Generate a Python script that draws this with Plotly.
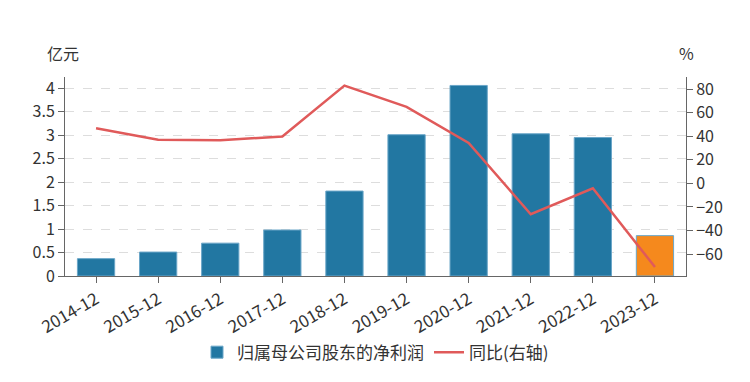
import plotly.graph_objects as go

categories = ["2014-12", "2015-12", "2016-12", "2017-12", "2018-12",
              "2019-12", "2020-12", "2021-12", "2022-12", "2023-12"]
net_profit = [0.37, 0.51, 0.70, 0.98, 1.81, 3.01, 4.06, 3.03, 2.95, 0.86]
yoy_pct = [46.7, 37.0, 36.5, 39.8, 82.9, 64.8, 34.2, -26.2, -4.2, -71.0]

bar_colors = ["#2277a2"] * 9 + ["#f5891d"]
FONT = "Noto Sans CJK SC"

fig = go.Figure()
fig.add_trace(go.Bar(
    x=categories, y=net_profit, name="归属母公司股东的净利润",
    marker=dict(color=bar_colors, line=dict(color="#6aa6c8", width=1)),
    yaxis="y",
))
fig.add_trace(go.Scatter(
    x=categories, y=yoy_pct, name="同比(右轴)", mode="lines",
    line=dict(color="#e05a5a", width=2.5),
    yaxis="y2",
))

# page body has an 8px default margin, so compensate in figure margins
fig.update_layout(
    width=742, height=374,
    margin=dict(l=57, r=64, t=69, b=98),
    paper_bgcolor="white", plot_bgcolor="white",
    font=dict(family=FONT, size=16, color="#333333"),
    bargap=0.4,
    showlegend=True,
    legend=dict(orientation="h", x=0.5, xanchor="center", y=-0.385, yanchor="middle",
                font=dict(size=17, color="#333333"), itemwidth=30),
    xaxis=dict(
        type="category", showline=True, linecolor="#666666", linewidth=1,
        ticks="outside", ticklen=6, tickcolor="#666666", tickangle=-30,
        tickfont=dict(size=17, color="#333333"), showgrid=False, mirror=False,
        automargin=False,
    ),
    yaxis=dict(
        range=[0, 4.24], dtick=0.5, tick0=0, showline=True, linecolor="#666666",
        ticks="outside", ticklen=6, tickcolor="#666666",
        showgrid=True, gridcolor="#dddddd", griddash="dash", gridwidth=1,
        zeroline=False, tickfont=dict(size=16, color="#333333"), automargin=False,
    ),
    yaxis2=dict(
        overlaying="y", side="right", range=[-78.6, 90.2], dtick=20, tick0=0,
        showline=True, linecolor="#666666", ticks="outside", ticklen=6,
        tickcolor="#666666", showgrid=False, zeroline=False,
        tickfont=dict(size=16, color="#333333"), automargin=False,
    ),
    annotations=[
        dict(text="亿元", xref="paper", yref="paper", x=-0.003, y=1.12,
             showarrow=False, xanchor="center", yanchor="middle",
             font=dict(size=16, color="#333333")),
        dict(text="%", xref="paper", yref="paper", x=1.0, y=1.12,
             showarrow=False, xanchor="center", yanchor="middle",
             font=dict(size=16, color="#333333")),
    ],
)

fig.write_html("out.html")
